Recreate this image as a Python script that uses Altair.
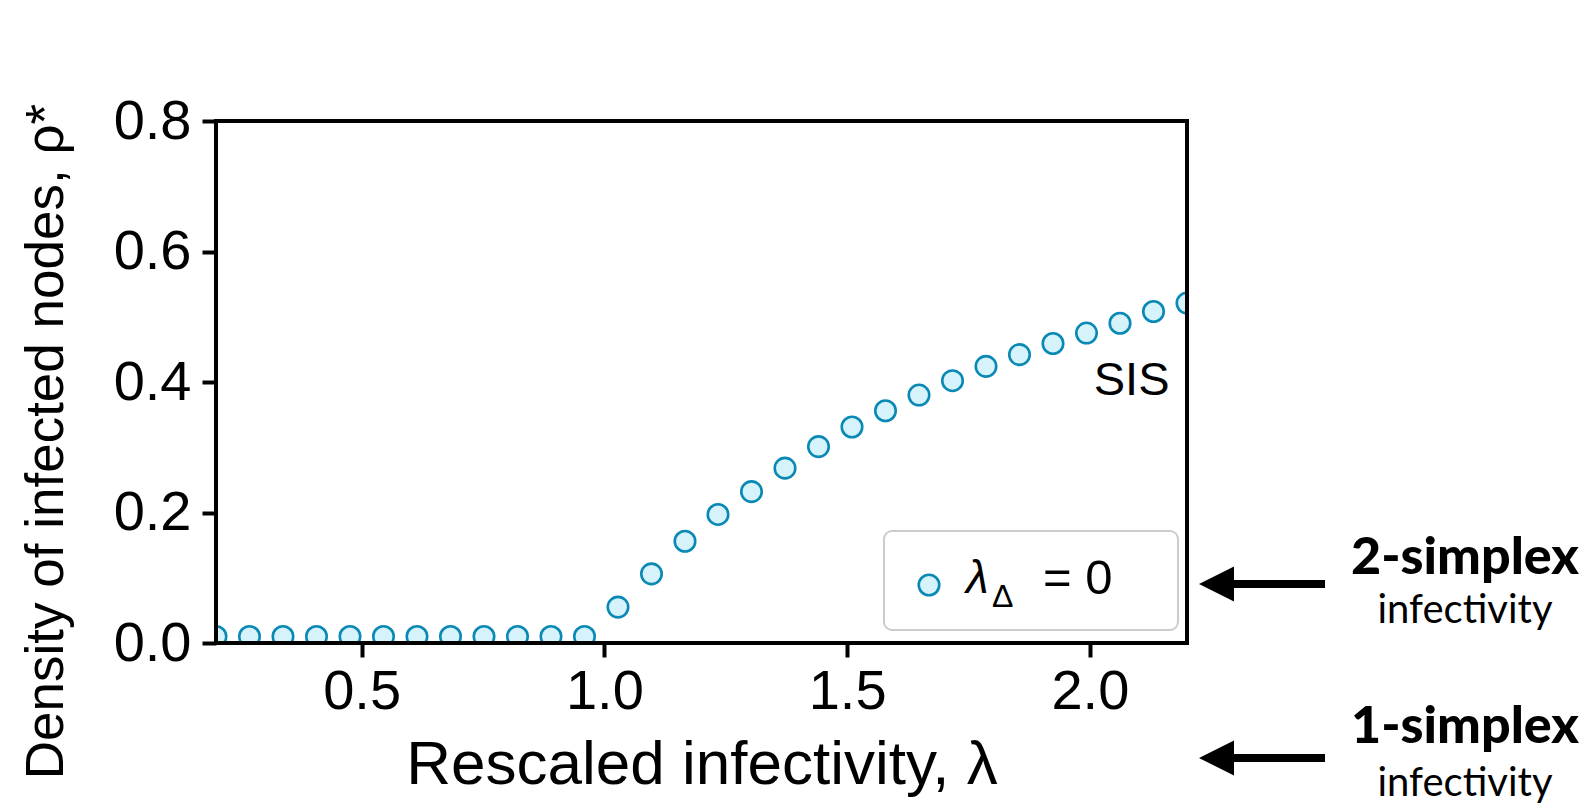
import altair as alt
import pandas as pd

# Rescaled infectivity (lambda) and stationary density of infected nodes (rho*)
lam = [0.200, 0.269, 0.338, 0.407, 0.476, 0.545, 0.614, 0.683, 0.752, 0.821,
       0.890, 0.959, 1.028, 1.097, 1.166, 1.234, 1.303, 1.372, 1.441, 1.510,
       1.579, 1.648, 1.717, 1.786, 1.855, 1.924, 1.993, 2.062, 2.131, 2.200]
rho = [0.010, 0.010, 0.010, 0.010, 0.010, 0.010, 0.010, 0.010, 0.010, 0.010,
       0.010, 0.010, 0.055, 0.106, 0.156, 0.197, 0.232, 0.268, 0.301, 0.331,
       0.356, 0.380, 0.402, 0.424, 0.442, 0.459, 0.475, 0.490, 0.508, 0.521]

x_ticks = [0.5, 1.0, 1.5, 2.0]
y_ticks = [0.0, 0.2, 0.4, 0.6, 0.8]

W, H = 971, 522
FONT = "Liberation Sans, Arial, Helvetica, sans-serif"
SIDE_FONT = "Lato, Open Sans, sans-serif"
STROKE = "#0a89b5"
FILL = "#d6f3fc"

df = pd.DataFrame({"lam": lam, "rho": rho})
one = pd.DataFrame({"k": [0]})

x_scale = alt.Scale(domain=[0.2, 2.2], nice=False, zero=False)
y_scale = alt.Scale(domain=[0.0, 0.8], nice=False)

points = alt.Chart(df).mark_circle(
    size=420, fill=FILL, stroke=STROKE, strokeWidth=2.6, opacity=1, clip=True
).encode(
    x=alt.X("lam:Q", scale=x_scale,
            axis=alt.Axis(values=x_ticks, format=".1f", title="Rescaled infectivity, λ",
                          titleY=140, titleBaseline="alphabetic", titleFontSize=62)),
    y=alt.Y("rho:Q", scale=y_scale,
            axis=alt.Axis(values=y_ticks, format=".1f", title="Density of infected nodes, ρ*",
                          titleX=-170, titleY=320, titleAngle=270, titleAlign="center",
                          titleBaseline="middle", titleFontSize=53)),
)

sis = alt.Chart(pd.DataFrame({"lam": [2.164], "rho": [0.38], "t": ["SIS"]})).mark_text(
    align="right", baseline="alphabetic", fontSize=47, font=FONT, color="black"
).encode(x=alt.X("lam:Q", scale=x_scale), y=alt.Y("rho:Q", scale=y_scale), text="t:N")

# frame drawn above the markers
frame = alt.Chart(one).mark_rect(fill=None, stroke="black", strokeWidth=4).encode(
    x=alt.value(0), x2=alt.value(W), y=alt.value(0), y2=alt.value(H))

# legend box
leg_box = alt.Chart(one).mark_rect(
    fill="white", stroke="#cccccc", strokeWidth=2, cornerRadius=8
).encode(x=alt.value(668), x2=alt.value(962), y=alt.value(410), y2=alt.value(509))
leg_sym = alt.Chart(one).mark_circle(
    size=420, fill=FILL, stroke=STROKE, strokeWidth=2.6, opacity=1
).encode(x=alt.value(713), y=alt.value(464))
leg_l = alt.Chart(one).mark_text(
    text="λ", align="left", baseline="alphabetic", fontSize=46, fontStyle="italic",
    font=FONT, color="black").encode(x=alt.value(750), y=alt.value(472))
leg_d = alt.Chart(one).mark_text(
    text="Δ", align="left", baseline="alphabetic", fontSize=32, font=FONT,
    color="black").encode(x=alt.value(776), y=alt.value(486))
leg_v = alt.Chart(one).mark_text(
    text="= 0", align="left", baseline="alphabetic", fontSize=49, font=FONT,
    color="black").encode(x=alt.value(827), y=alt.value(473))

# arrows pointing at the two infectivity levels, with their labels
arrow_layers = []
for yc, big_y, small_y, big in [(463, 453, 502, "2-simplex"), (637, 622, 675, "1-simplex")]:
    arrow_layers.append(alt.Chart(one).mark_rule(color="black", strokeWidth=8).encode(
        x=alt.value(1014), x2=alt.value(1109), y=alt.value(yc)))
    arrow_layers.append(alt.Chart(one).mark_point(
        shape="M -1 0 L 1 -1 L 1 1 Z", size=1225, filled=True, fill="black",
        stroke=None, opacity=1).encode(x=alt.value(1000.5), y=alt.value(yc)))
    arrow_layers.append(alt.Chart(one).mark_text(
        text=big, align="center", baseline="alphabetic", fontSize=52, fontWeight=900,
        font=SIDE_FONT, color="black").encode(x=alt.value(1249), y=alt.value(big_y)))
    arrow_layers.append(alt.Chart(one).mark_text(
        text="infectivity", align="center", baseline="alphabetic", fontSize=40,
        font=SIDE_FONT, color="black").encode(x=alt.value(1249), y=alt.value(small_y)))

chart = alt.layer(
    points, sis, frame, leg_box, leg_sym, leg_l, leg_d, leg_v, *arrow_layers
).properties(
    width=W, height=H,
    autosize=alt.AutoSizeParams(type="none"),
    padding={"left": 216, "top": 121, "right": 402, "bottom": 167},
    background="white",
).configure_view(stroke=None).configure_axis(
    domain=False, grid=False, tickSize=14, tickWidth=4, tickColor="black",
    labelFont=FONT, labelFontSize=56, labelColor="black",
    titleFont=FONT, titleFontWeight="normal", titleColor="black",
).configure_axisY(labelPadding=11).configure_axisX(labelPadding=7)

chart.save("out.html", embed_options={"renderer": "svg", "actions": False})
